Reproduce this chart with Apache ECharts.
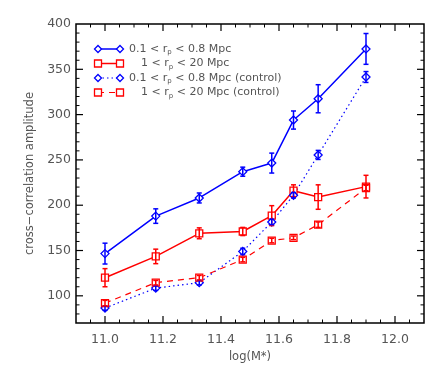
<!DOCTYPE html>
<html>
<head>
<meta charset="utf-8">
<script src="https://cdn.jsdelivr.net/npm/echarts@6/dist/echarts.min.js"></script>
<style>
  html, body { margin: 0; padding: 0; background: #fff; }
  #chart { width: 447px; height: 372px; }
</style>
</head>
<body>
<div id="chart"></div>
<script>
// stellar mass bins
const massX = [11.0, 11.175, 11.325, 11.475, 11.575, 11.65, 11.735, 11.9];

// 0.1 < rp < 0.8 Mpc
const smallScale = [146.6, 188, 208, 237, 246.5, 294, 317.5, 372.5];
const smallScaleErr = [11.5, 8, 5.5, 5, 11, 10, 15.5, 17];
// 1 < rp < 20 Mpc
const largeScale = [120, 143.5, 169, 171, 188.5, 216, 209, 220.5];
const largeScaleErr = [10, 8, 6, 4.5, 11, 6.5, 13.5, 12.5];
// control samples
const smallCtrl = [86.5, 108.5, 114.5, 149, 181.5, 211, 255.5, 341.5];
const smallCtrlErr = [2.5, 2.5, 2.5, 3.5, 3, 3, 5, 6];
const largeCtrl = [92, 114.5, 120, 140, 161, 164, 178.5, 219];
const largeCtrlErr = [3, 2.5, 2.5, 2.5, 2.5, 2, 3, 3];

// axis ticks
const xMajor = [11.0, 11.2, 11.4, 11.6, 11.8, 12.0];
const yMajor = [100, 150, 200, 250, 300, 350, 400];
const X_MIN = 10.9, X_MAX = 12.1, Y_MIN = 70, Y_MAX = 400;

const BLUE = '#0000ff';
const RED = '#ff0000';
const TXT = '#555';
const FONT = 'DejaVu Sans';

let chart = echarts.init(document.getElementById('chart'));

function pairs(ys) {
  return ys.map((y, i) => [massX[i], y]);
}

function errData(ys, es) {
  return ys.map((y, i) => [massX[i], y - es[i], y + es[i]]);
}

function errSeries(ys, es, color) {
  return {
    type: 'custom',
    z: 5,
    silent: true,
    data: errData(ys, es),
    renderItem: function (params, api) {
      const lo = api.coord([api.value(0), api.value(1)]);
      const hi = api.coord([api.value(0), api.value(2)]);
      const w = 2.5;
      const st = { stroke: color, lineWidth: 1.5 };
      return {
        type: 'group',
        children: [
          { type: 'line', shape: { x1: lo[0], y1: lo[1], x2: hi[0], y2: hi[1] }, style: st },
          { type: 'line', shape: { x1: lo[0] - w, y1: lo[1], x2: lo[0] + w, y2: lo[1] }, style: st },
          { type: 'line', shape: { x1: hi[0] - w, y1: hi[1], x2: hi[0] + w, y2: hi[1] }, style: st }
        ]
      };
    }
  };
}

function lineSeries(ys, color, symbol, size, lineType, width) {
  return {
    type: 'line',
    data: pairs(ys),
    symbol: symbol,
    symbolSize: size,
    showAllSymbol: true,
    z: 3,
    lineStyle: { color: color, width: width, type: lineType },
    itemStyle: { color: '#fff', borderColor: color, borderWidth: 1.3 }
  };
}

// inward ticks on all four sides (major every 0.2 / 50, minor every 0.05 / 10)
const xTicks = [];
for (let k = 1; k < Math.round((X_MAX - X_MIN) / 0.05); k++) {
  const v = +(X_MIN + k * 0.05).toFixed(2);
  xTicks.push([v, Y_MIN, xMajor.some(m => Math.abs(m - v) < 1e-6) ? 1 : 0]);
}
const yTicks = [];
for (let v = Y_MIN + 10; v < Y_MAX; v += 10) {
  yTicks.push([X_MIN, v, yMajor.indexOf(v) >= 0 ? 1 : 0]);
}

function tickSeries(data, dir) {
  return {
    type: 'custom',
    z: 6,
    silent: true,
    clip: false,
    data: data,
    renderItem: function (params, api) {
      const cs = params.coordSys;
      const len = api.value(2) ? 7 : 3.5;
      const st = { stroke: '#000', lineWidth: api.value(2) ? 1.2 : 1 };
      if (dir === 'x') {
        const x = api.coord([api.value(0), api.value(1)])[0];
        const b = cs.y + cs.height;
        return { type: 'group', children: [
          { type: 'line', shape: { x1: x, y1: b, x2: x, y2: b - len }, style: st },
          { type: 'line', shape: { x1: x, y1: cs.y, x2: x, y2: cs.y + len }, style: st }
        ] };
      }
      const y = api.coord([api.value(0), api.value(1)])[1];
      const r = cs.x + cs.width;
      return { type: 'group', children: [
        { type: 'line', shape: { x1: cs.x, y1: y, x2: cs.x + len, y2: y }, style: st },
        { type: 'line', shape: { x1: r, y1: y, x2: r - len, y2: y }, style: st }
      ] };
    }
  };
}

// legend drawn as graphic (symbols at both ends of sample line)
const legendItems = [
  { color: BLUE, sym: 'diamond', dash: null, pre: '0.1 < r', post: ' < 0.8 Mpc', indent: 0 },
  { color: RED, sym: 'rect', dash: null, pre: '1 < r', post: ' < 20 Mpc', indent: 12 },
  { color: BLUE, sym: 'diamond', dash: [1.5, 3], pre: '0.1 < r', post: ' < 0.8 Mpc (control)', indent: 0 },
  { color: RED, sym: 'rect', dash: [6, 5], pre: '1 < r', post: ' < 20 Mpc (control)', indent: 12 }
];

function markShape(kind, cx, cy, color) {
  if (kind === 'diamond') {
    return { type: 'polygon', shape: { points: [[cx, cy - 3.5], [cx + 3.5, cy], [cx, cy + 3.5], [cx - 3.5, cy]] },
      style: { fill: '#fff', stroke: color, lineWidth: 1.3 } };
  }
  return { type: 'rect', shape: { x: cx - 3.5, y: cy - 3.5, width: 7, height: 7 },
    style: { fill: '#fff', stroke: color, lineWidth: 1.3 } };
}

const legendGraphics = [];
legendItems.forEach((it, i) => {
  const y = 49 + i * 14.5;
  const x1 = 98, x2 = 120;
  const ls = { stroke: it.color, lineWidth: it.dash ? 1.2 : 1.5 };
  if (it.dash) ls.lineDash = it.dash;
  legendGraphics.push({ type: 'line', shape: { x1: x1, y1: y, x2: x2, y2: y }, style: ls });
  legendGraphics.push(markShape(it.sym, x1, y, it.color));
  legendGraphics.push(markShape(it.sym, x2, y, it.color));
  legendGraphics.push({
    type: 'text', x: 129 + it.indent, y: y,
    style: {
      text: '{a|' + it.pre + '}{s|p}{a|' + it.post + '}',
      verticalAlign: 'middle',
      rich: {
        a: { fontFamily: FONT, fontSize: 11, fill: TXT },
        s: { fontFamily: FONT, fontSize: 7, fill: TXT, padding: [7, 0, 0, 0] }
      }
    }
  });
});

let myOption = {
  animation: false,
  grid: { left: 76, right: 23, top: 24, bottom: 49, show: true, borderColor: '#000', borderWidth: 1.5 },
  xAxis: {
    type: 'value', min: X_MIN, max: X_MAX,
    axisLine: { show: false },
    axisTick: { show: false },
    splitLine: { show: false },
    axisLabel: { customValues: xMajor, color: TXT, fontFamily: FONT, fontSize: 12.5, margin: 10,
      formatter: v => v.toFixed(1) },
    name: 'log(M*)', nameLocation: 'middle', nameGap: 23,
    nameTextStyle: { color: TXT, fontFamily: FONT, fontSize: 11.5 }
  },
  yAxis: {
    type: 'value', min: Y_MIN, max: Y_MAX,
    axisLine: { show: false },
    axisTick: { show: false },
    splitLine: { show: false },
    axisLabel: { customValues: yMajor, color: TXT, fontFamily: FONT, fontSize: 12.5, margin: 5 },
    name: 'cross\u2212correlation amplitude', nameLocation: 'middle', nameGap: 36,
    nameTextStyle: { color: TXT, fontFamily: FONT, fontSize: 11.5 }
  },
  series: [
    lineSeries(smallScale, BLUE, 'diamond', 8, 'solid', 1.5),
    lineSeries(largeScale, RED, 'rect', 7, 'solid', 1.5),
    lineSeries(smallCtrl, BLUE, 'diamond', 8, [1.5, 3], 1.2),
    lineSeries(largeCtrl, RED, 'rect', 7, [6, 5], 1.2),
    errSeries(smallScale, smallScaleErr, BLUE),
    errSeries(largeScale, largeScaleErr, RED),
    errSeries(smallCtrl, smallCtrlErr, BLUE),
    errSeries(largeCtrl, largeCtrlErr, RED),
    tickSeries(xTicks, 'x'),
    tickSeries(yTicks, 'y')
  ],
  graphic: legendGraphics
};

chart.setOption(myOption);
window.onresize = function () {
  chart.resize();
};
</script>
</body>
</html>
